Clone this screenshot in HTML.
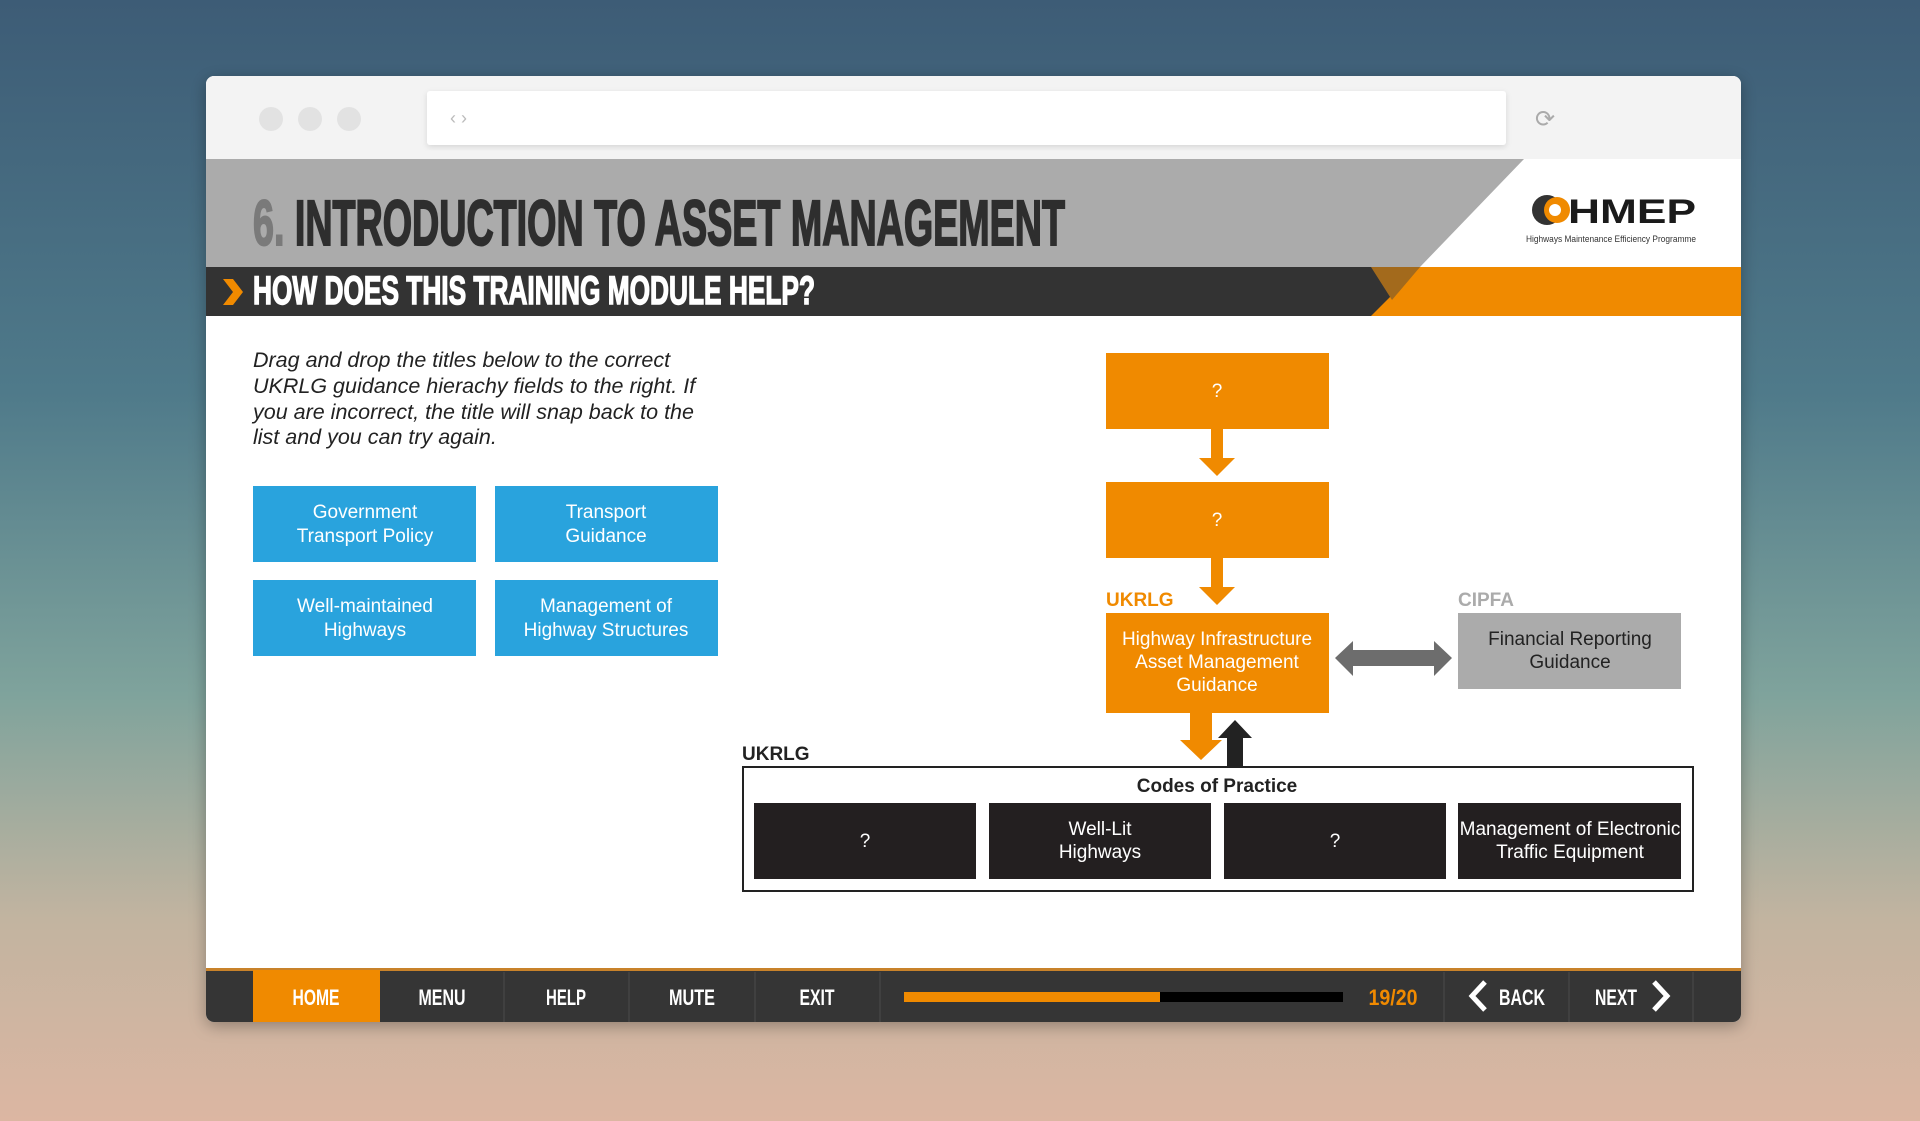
<!DOCTYPE html>
<html><head><meta charset="utf-8"><style>
html,body{margin:0;padding:0;width:1920px;height:1121px;overflow:hidden}
svg{display:block}
</style></head><body>
<svg width="1920" height="1121" viewBox="0 0 1920 1121" xmlns="http://www.w3.org/2000/svg" font-family="Liberation Sans, Arial, sans-serif">
<defs>
<linearGradient id="bg" x1="0" y1="0" x2="0" y2="1">
<stop offset="0" stop-color="#3d5c76"/>
<stop offset="0.35" stop-color="#4f7a8a"/>
<stop offset="0.62" stop-color="#7fa39c"/>
<stop offset="0.82" stop-color="#c2b4a0"/>
<stop offset="1" stop-color="#dcb6a2"/>
</linearGradient>
<filter id="sh" x="-5%" y="-5%" width="110%" height="115%"><feDropShadow dx="0" dy="4" stdDeviation="8" flood-opacity="0.3"/></filter>
<filter id="sh2"><feDropShadow dx="0" dy="2" stdDeviation="3" flood-opacity="0.12"/></filter>
</defs>
<rect width="1920" height="1121" fill="url(#bg)"/>
<rect x="206" y="76" width="1535" height="946" rx="8" fill="#fff" filter="url(#sh)"/>
<path d="M206 159 V84 a8 8 0 0 1 8 -8 H1733 a8 8 0 0 1 8 8 V159 Z" fill="#f3f3f3"/>
<circle cx="271" cy="119" r="12" fill="#e2e2e2"/>
<circle cx="310" cy="119" r="12" fill="#e2e2e2"/>
<circle cx="349" cy="119" r="12" fill="#e2e2e2"/>
<rect x="427" y="91" width="1079" height="54" rx="3" fill="#fff" filter="url(#sh2)"/>
<text x="450" y="124" font-size="18" fill="#bbb">‹ ›</text>
<text x="1535" y="127" font-size="24" fill="#aaa">⟳</text>
<polygon points="206,159 1524,159 1420,267 206,267" fill="#ababab"/>
<polygon points="206,267 1420,267 1380,316 206,316" fill="#333"/>
<polygon points="1420,267 1741,267 1741,316 1371,316" fill="#f08a00"/>
<polygon points="1371,267 1420,267 1392,300" fill="#a36a1c"/>
<text x="253" y="245" font-size="64" font-weight="bold" textLength="812" lengthAdjust="spacingAndGlyphs" fill="#2e2e2e" stroke="#2e2e2e" stroke-width="2"><tspan fill="#7a7a7a" stroke="#7a7a7a">6.</tspan> INTRODUCTION TO ASSET MANAGEMENT</text>
<polygon points="223,279 233,279 243,292 233,305 223,305 233,292" fill="#f08a00"/>
<text x="253" y="304" font-size="40" font-weight="bold" textLength="562" lengthAdjust="spacingAndGlyphs" fill="#fff" stroke="#fff" stroke-width="1.5">HOW DOES THIS TRAINING MODULE HELP?</text>
<circle cx="1547" cy="210" r="15" fill="#333"/>
<circle cx="1557" cy="210" r="13" fill="#f08a00"/>
<circle cx="1555" cy="210" r="6" fill="#fff"/>
<text x="1568" y="223" font-size="34" font-weight="bold" textLength="128" lengthAdjust="spacingAndGlyphs" fill="#1a1a1a">HMEP</text>
<text x="1526" y="242" font-size="9" textLength="170" lengthAdjust="spacingAndGlyphs" fill="#333">Highways Maintenance Efficiency Programme</text>
<g font-size="21.5" font-style="italic" fill="#222">
<text x="253" y="367">Drag and drop the titles below to the correct</text>
<text x="253" y="393">UKRLG guidance hierachy fields to the right. If</text>
<text x="253" y="419">you are incorrect, the title will snap back to the</text>
<text x="253" y="444">list and you can try again.</text>
</g>
<g fill="#29a3dd"><rect x="253" y="486" width="223" height="76"/><rect x="495" y="486" width="223" height="76"/><rect x="253" y="580" width="223" height="76"/><rect x="495" y="580" width="223" height="76"/></g>
<g font-size="19" fill="#fff" text-anchor="middle">
<text x="365" y="518">Government</text><text x="365" y="542">Transport Policy</text>
<text x="606" y="518">Transport</text><text x="606" y="542">Guidance</text>
<text x="365" y="612">Well-maintained</text><text x="365" y="636">Highways</text>
<text x="606" y="612">Management of</text><text x="606" y="636">Highway Structures</text>
</g>
<g fill="#f08a00">
<rect x="1106" y="353" width="223" height="76"/>
<rect x="1106" y="482" width="223" height="76"/>
<rect x="1106" y="613" width="223" height="100"/>
<polygon points="1211,429 1223,429 1223,458 1235,458 1217,476 1199,458 1211,458"/>
<polygon points="1211,558 1223,558 1223,587 1235,587 1217,605 1199,587 1211,587"/>
<polygon points="1190,713 1212,713 1212,740 1222,740 1201,760 1180,740 1190,740"/>
</g>
<polygon points="1243,767 1227,767 1227,738 1218,738 1235,720 1252,738 1243,738" fill="#222"/>
<g font-size="19" fill="#fff" text-anchor="middle">
<text x="1217" y="397">?</text><text x="1217" y="526">?</text>
<text x="1217" y="645">Highway Infrastructure</text><text x="1217" y="668">Asset Management</text><text x="1217" y="691">Guidance</text>
</g>
<text x="1106" y="606" font-size="19" font-weight="bold" fill="#f08a00">UKRLG</text>
<text x="1458" y="606" font-size="19" font-weight="bold" fill="#ababab">CIPFA</text>
<rect x="1458" y="613" width="223" height="76" fill="#ababab"/>
<g font-size="19" fill="#222" text-anchor="middle"><text x="1570" y="645">Financial Reporting</text><text x="1570" y="668">Guidance</text></g>
<polygon points="1335,658 1353,641 1353,650 1434,650 1434,641 1452,658 1434,676 1434,666 1353,666 1353,676" fill="#6d6d6d"/>
<text x="742" y="760" font-size="19" font-weight="bold" fill="#222">UKRLG</text>
<rect x="743" y="767" width="950" height="124" fill="#fff" stroke="#222" stroke-width="2"/>
<text x="1217" y="792" font-size="19" font-weight="bold" fill="#222" text-anchor="middle">Codes of Practice</text>
<g fill="#231f20"><rect x="754" y="803" width="222" height="76"/><rect x="989" y="803" width="222" height="76"/><rect x="1224" y="803" width="222" height="76"/><rect x="1458" y="803" width="223" height="76"/></g>
<g font-size="19" fill="#fff" text-anchor="middle">
<text x="865" y="847">?</text>
<text x="1100" y="835">Well-Lit</text><text x="1100" y="858">Highways</text>
<text x="1335" y="847">?</text>
<text x="1570" y="835">Management of Electronic</text><text x="1570" y="858">Traffic Equipment</text>
</g>
<path d="M206 970 H1741 V1014 a8 8 0 0 1 -8 8 H214 a8 8 0 0 1 -8 -8 Z" fill="#353535"/>
<rect x="206" y="968" width="1535" height="3" fill="#c8822a"/>
<rect x="253" y="970" width="127" height="52" fill="#f08a00"/>
<g stroke="#4a4a4a" stroke-width="1"><line x1="504" y1="972" x2="504" y2="1022"/><line x1="629" y1="972" x2="629" y2="1022"/><line x1="755" y1="972" x2="755" y2="1022"/><line x1="880" y1="972" x2="880" y2="1022"/><line x1="1444" y1="972" x2="1444" y2="1022"/><line x1="1569" y1="972" x2="1569" y2="1022"/><line x1="1693" y1="972" x2="1693" y2="1022"/></g>
<g font-size="22" font-weight="bold" fill="#fff" text-anchor="middle">
<text x="316" y="1005" textLength="47" lengthAdjust="spacingAndGlyphs">HOME</text>
<text x="442" y="1005" textLength="47" lengthAdjust="spacingAndGlyphs">MENU</text>
<text x="566" y="1005" textLength="40" lengthAdjust="spacingAndGlyphs">HELP</text>
<text x="692" y="1005" textLength="46" lengthAdjust="spacingAndGlyphs">MUTE</text>
<text x="817" y="1005" textLength="35" lengthAdjust="spacingAndGlyphs">EXIT</text>
<text x="1522" y="1005" textLength="46" lengthAdjust="spacingAndGlyphs">BACK</text>
<text x="1616" y="1005" textLength="42" lengthAdjust="spacingAndGlyphs">NEXT</text>
</g>
<text x="1393" y="1005" font-size="22" font-weight="bold" fill="#f08a00" text-anchor="middle" textLength="49" lengthAdjust="spacingAndGlyphs">19/20</text>
<rect x="904" y="992" width="439" height="10" fill="#000"/>
<rect x="904" y="992" width="256" height="10" fill="#f08a00"/>
<polyline points="1485,982 1472,996 1485,1010" fill="none" stroke="#fff" stroke-width="5"/>
<polyline points="1654,982 1667,996 1654,1010" fill="none" stroke="#fff" stroke-width="5"/>
</svg>
</body></html>
